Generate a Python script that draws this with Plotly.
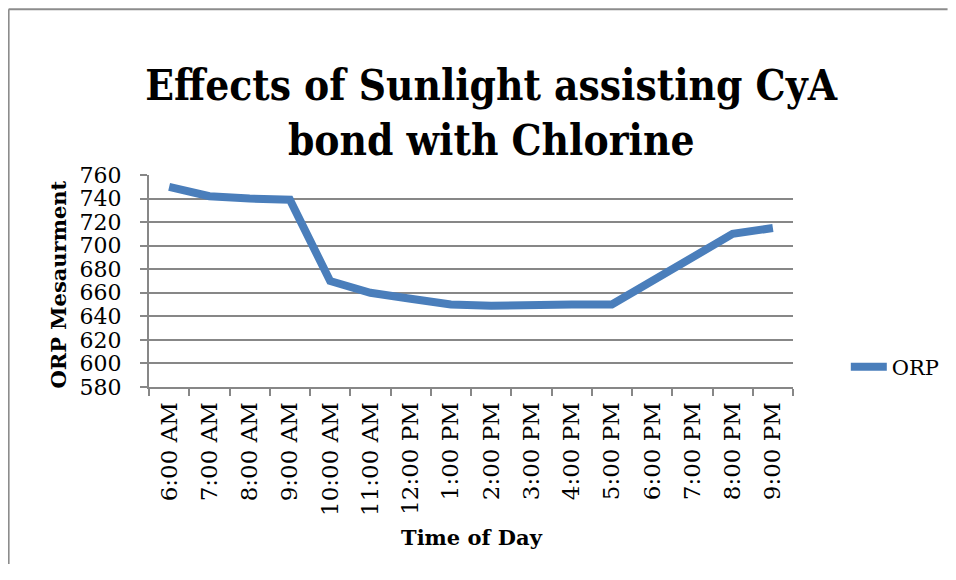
import plotly.graph_objects as go

times = ["6:00 AM", "7:00 AM", "8:00 AM", "9:00 AM", "10:00 AM", "11:00 AM",
         "12:00 PM", "1:00 PM", "2:00 PM", "3:00 PM", "4:00 PM", "5:00 PM",
         "6:00 PM", "7:00 PM", "8:00 PM", "9:00 PM"]
orp = [750, 742, 740, 739, 670, 660, 655, 650, 649, 650, 650, 650, 670, 690, 710, 715]
y_ticks = [580, 600, 620, 640, 660, 680, 700, 720, 740, 760]

SERIF = "DejaVu Serif, Liberation Serif, serif"
TITLE_FONT = "DejaVu Serif Condensed, DejaVu Serif, serif"
GRID = "#878787"

fig = go.Figure()
fig.add_trace(go.Scatter(
    x=times, y=orp, mode="lines", name="ORP",
    line=dict(color="#4A7EBB", width=8),
))

fig.update_layout(
    width=940, height=556,
    margin=dict(l=141, r=155, t=167, b=177, autoexpand=False),
    paper_bgcolor="white", plot_bgcolor="white",
    font=dict(family=SERIF, color="black", size=20),
    title=dict(
        text="<b>Effects of Sunlight assisting CyA<br>bond with Chlorine</b>",
        x=0.514, xanchor="center", y=0.8347, yanchor="middle",
        font=dict(family=TITLE_FONT, size=42, color="black"),
    ),
    showlegend=True,
    legend=dict(
        x=1.082, y=0.094, xanchor="left", yanchor="middle",
        font=dict(family=SERIF, size=21, color="black"),
        bgcolor="rgba(0,0,0,0)",
        itemwidth=36,
    ),
    shapes=[
        dict(type="line", xref="paper", yref="paper",
             x0=-0.218, x1=1.24, y0=1.7816, y1=1.7816,
             line=dict(color="#8c8c8c", width=2), layer="below"),
        dict(type="line", xref="paper", yref="paper",
             x0=-0.218, x1=-0.218, y0=-1.0, y1=1.7816,
             line=dict(color="#8c8c8c", width=2), layer="below"),
    ],
    annotations=[
        dict(text="<b>ORP Mesaurment</b>", xref="paper", yref="paper",
             x=-0.1405, y=0.481, xanchor="center", yanchor="middle",
             textangle=-90, showarrow=False,
             font=dict(family=SERIF, size=21, color="black")),
        dict(text="<b>Time of Day</b>", xref="paper", yref="paper",
             x=0.5008, y=-0.71, xanchor="center", yanchor="middle",
             showarrow=False,
             font=dict(family=SERIF, size=21, color="black")),
    ],
)

fig.update_xaxes(
    type="category", categoryorder="array", categoryarray=times,
    range=[-0.5, len(times) - 0.5],
    tickangle=-90, tickfont=dict(family=SERIF, size=23, color="black"),
    showline=True, linecolor=GRID, linewidth=2,
    ticks="outside", tickson="boundaries", ticklen=7, tickcolor=GRID, tickwidth=2,
    ticklabelstandoff=4,
    showgrid=False,
)
fig.update_yaxes(
    range=[580, 760], tickvals=y_ticks, ticktext=[str(v) for v in y_ticks],
    tickfont=dict(family=SERIF, size=22, color="black"),
    showline=True, linecolor=GRID, linewidth=2,
    ticks="outside", ticklen=7, tickcolor=GRID, tickwidth=2,
    ticklabelstandoff=14,
    showgrid=True, gridcolor=GRID, gridwidth=2,
    zeroline=False,
)

fig.write_html("out.html")
